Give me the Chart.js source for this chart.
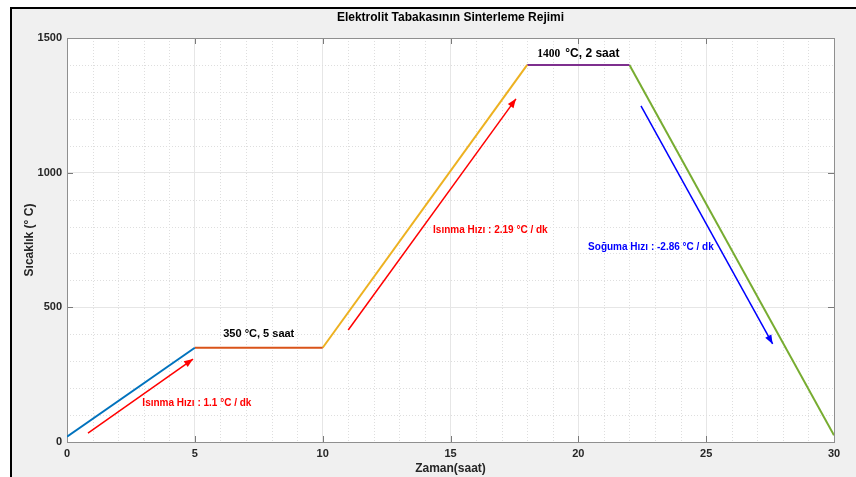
<!DOCTYPE html>
<html>
<head>
<meta charset="utf-8">
<script src="https://cdn.jsdelivr.net/npm/chart.js@4.4.1/dist/chart.umd.min.js"></script>
<style>
  html, body { margin: 0; padding: 0; background: #ffffff; width: 856px; height: 477px; overflow: hidden; }
  #frame { position: absolute; left: 10px; top: 7px; right: 0; bottom: 0; background: #f0f0f0;
           border-top: 2px solid #000; border-left: 2px solid #000; }
  #wrap { position: absolute; left: 0; top: 0; width: 856px; height: 477px; }
</style>
</head>
<body>
<div id="frame"></div>
<div id="wrap"><canvas id="c" width="856" height="477"></canvas></div>
<script>
// Sintering schedule: time (hours) vs temperature (°C)
const timeHours    = [0, 5, 10, 18, 22, 30];
const temperatures = [20, 350, 350, 1400, 1400, 25];
const segmentColors = ['#0072BD', '#D95319', '#EDB120', '#7E2F8E', '#77AC30'];

// Axis ticks
const xTickValues = [0, 5, 10, 15, 20, 25, 30];
const yTickValues = [0, 500, 1000, 1500];

// Rate arrows (data coordinates)
const arrowStartX = [0.82, 11.0, 22.45];
const arrowStartY = [33, 416, 1248];
const arrowEndX   = [4.93, 17.56, 27.6];
const arrowEndY   = [308, 1274, 364];
const arrowColors = ['#ff0000', '#ff0000', '#0000ff'];

// Text notes (centred at data coordinates)
const noteTexts  = ['Isınma Hızı : 1.1 °C / dk', '350 °C, 5 saat', 'Isınma Hızı : 2.19 °C / dk', 'Soğuma Hızı : -2.86 °C / dk'];
const noteX      = [5.08, 7.5, 16.56, 22.84];
const noteY      = [145, 401, 785, 724];
const noteColors = ['#ff0000', '#000000', '#ff0000', '#0000ff'];
const noteSizes  = [10, 11, 10, 10];

// Hold label at the top plateau: number and unit text
const holdNumber = '1400';
const holdUnit   = '°C, 2 saat';
const holdX = 20.0, holdY = 1441;

const SANS = "'Liberation Sans', Arial, Helvetica, sans-serif";
const SERIF = "'Liberation Serif', 'Times New Roman', serif";

const datasets = [];
for (let i = 0; i < timeHours.length - 1; i++) {
  datasets.push({
    data: [{x: timeHours[i], y: temperatures[i]}, {x: timeHours[i + 1], y: temperatures[i + 1]}],
    borderColor: segmentColors[i], borderWidth: 2, pointRadius: 0, fill: false
  });
}
for (let i = 0; i < arrowStartX.length; i++) {
  datasets.push({
    data: [{x: arrowStartX[i], y: arrowStartY[i]}, {x: arrowEndX[i], y: arrowEndY[i]}],
    borderColor: arrowColors[i], borderWidth: 1.5, pointRadius: 0, fill: false
  });
}

const figurePlugin = {
  id: 'figureDecor',
  beforeDraw(chart) {
    const {ctx, chartArea: a} = chart;
    ctx.save();
    ctx.fillStyle = '#ffffff';
    ctx.fillRect(a.left, a.top, a.right - a.left, a.bottom - a.top);
    ctx.restore();
  },
  beforeDatasetsDraw(chart) {
    const {ctx, chartArea: a, scales: {x, y}} = chart;
    ctx.save();
    // minor dotted grid
    ctx.strokeStyle = '#dedede';
    ctx.lineWidth = 1;
    ctx.setLineDash([1, 2]);
    for (let v = 1; v < 30; v++) {
      if (v % 5 === 0) continue;
      const px = Math.round(x.getPixelForValue(v)) + 0.5;
      ctx.beginPath(); ctx.moveTo(px, a.top); ctx.lineTo(px, a.bottom); ctx.stroke();
    }
    for (let v = 100; v < 1500; v += 100) {
      if (v % 500 === 0) continue;
      const py = Math.round(y.getPixelForValue(v)) + 0.5;
      ctx.beginPath(); ctx.moveTo(a.left, py); ctx.lineTo(a.right, py); ctx.stroke();
    }
    ctx.setLineDash([]);
    // inward tick marks
    ctx.strokeStyle = '#7a7a7a';
    xTickValues.forEach(v => {
      const px = Math.round(x.getPixelForValue(v)) + 0.5;
      ctx.beginPath(); ctx.moveTo(px, a.bottom); ctx.lineTo(px, a.bottom - 6); ctx.stroke();
      ctx.beginPath(); ctx.moveTo(px, a.top); ctx.lineTo(px, a.top + 6); ctx.stroke();
    });
    yTickValues.forEach(v => {
      const py = Math.round(y.getPixelForValue(v)) + 0.5;
      ctx.beginPath(); ctx.moveTo(a.left, py); ctx.lineTo(a.left + 6, py); ctx.stroke();
      ctx.beginPath(); ctx.moveTo(a.right, py); ctx.lineTo(a.right - 6, py); ctx.stroke();
    });
    // axes box
    ctx.strokeStyle = '#8f8f8f';
    ctx.strokeRect(Math.round(a.left) + 0.5, Math.round(a.top) + 0.5,
                   Math.round(a.right - a.left), Math.round(a.bottom - a.top));
    ctx.restore();
  },
  afterDatasetsDraw(chart) {
    const {ctx, scales: {x, y}} = chart;
    ctx.save();
    // arrow heads
    for (let i = 0; i < arrowStartX.length; i++) {
      const x0 = x.getPixelForValue(arrowStartX[i]), y0 = y.getPixelForValue(arrowStartY[i]);
      const x1 = x.getPixelForValue(arrowEndX[i]),   y1 = y.getPixelForValue(arrowEndY[i]);
      const ang = Math.atan2(y1 - y0, x1 - x0);
      const len = 9, half = 3.5;
      ctx.fillStyle = arrowColors[i];
      ctx.beginPath();
      ctx.moveTo(x1, y1);
      ctx.lineTo(x1 - len * Math.cos(ang) + half * Math.sin(ang), y1 - len * Math.sin(ang) - half * Math.cos(ang));
      ctx.lineTo(x1 - len * Math.cos(ang) - half * Math.sin(ang), y1 - len * Math.sin(ang) + half * Math.cos(ang));
      ctx.closePath();
      ctx.fill();
    }
    // notes
    ctx.textBaseline = 'middle';
    ctx.textAlign = 'center';
    for (let i = 0; i < noteTexts.length; i++) {
      ctx.font = 'bold ' + noteSizes[i] + 'px ' + SANS;
      ctx.fillStyle = noteColors[i];
      ctx.fillText(noteTexts[i], x.getPixelForValue(noteX[i]), y.getPixelForValue(noteY[i]));
    }
    // plateau hold label: serif number followed by sans unit text
    ctx.textAlign = 'left';
    ctx.font = 'bold 11.5px ' + SERIF;
    const w1 = ctx.measureText(holdNumber).width;
    ctx.font = 'bold 12px ' + SANS;
    const w2 = ctx.measureText(holdUnit).width;
    const gap = 5;
    const start = x.getPixelForValue(holdX) - (w1 + gap + w2) / 2;
    const hy = y.getPixelForValue(holdY);
    ctx.fillStyle = '#000000';
    ctx.font = 'bold 11.5px ' + SERIF;
    ctx.fillText(holdNumber, start, hy);
    ctx.font = 'bold 12px ' + SANS;
    ctx.fillText(holdUnit, start + w1 + gap, hy);
    ctx.restore();
  }
};

new Chart(document.getElementById('c'), {
  type: 'line',
  data: { datasets },
  plugins: [figurePlugin],
  options: {
    responsive: false,
    animation: false,
    events: [],
    layout: { padding: { top: 0, right: 22, bottom: 0, left: 0 } },
    plugins: {
      legend: { display: false },
      tooltip: { enabled: false },
      title: {
        display: true,
        fullSize: false,
        text: 'Elektrolit Tabakasının Sinterleme Rejimi',
        color: '#000000',
        font: { family: SANS, size: 12, weight: 'bold', lineHeight: '14px' },
        padding: { top: 11, bottom: 13 }
      }
    },
    scales: {
      x: {
        type: 'linear', min: 0, max: 30,
        afterFit(s) { s.height = 35; },
        afterBuildTicks(s) { s.ticks = xTickValues.map(v => ({value: v})); },
        ticks: { color: '#262626', font: { family: SANS, size: 11, weight: 'bold' }, padding: 5, maxRotation: 0,
                 callback: v => String(v) },
        grid: { color: '#e6e6e6', drawTicks: false },
        border: { display: false },
        title: { display: true, text: 'Zaman(saat)', color: '#262626',
                 font: { family: SANS, size: 12, weight: 'bold' }, padding: { top: 0, bottom: 1 } }
      },
      y: {
        type: 'linear', min: 0, max: 1500,
        afterFit(s) { s.width = 67; },
        afterBuildTicks(s) { s.ticks = yTickValues.map(v => ({value: v})); },
        ticks: { color: '#262626', font: { family: SANS, size: 11, weight: 'bold' }, padding: 5,
                 callback: v => String(v) },
        grid: { color: '#e6e6e6', drawTicks: false },
        border: { display: false },
        title: { display: true, text: 'Sıcaklık (° C)', color: '#262626',
                 font: { family: SANS, size: 12, weight: 'bold' }, padding: { top: 22, bottom: 0 } }
      }
    }
  }
});
</script>
</body>
</html>
